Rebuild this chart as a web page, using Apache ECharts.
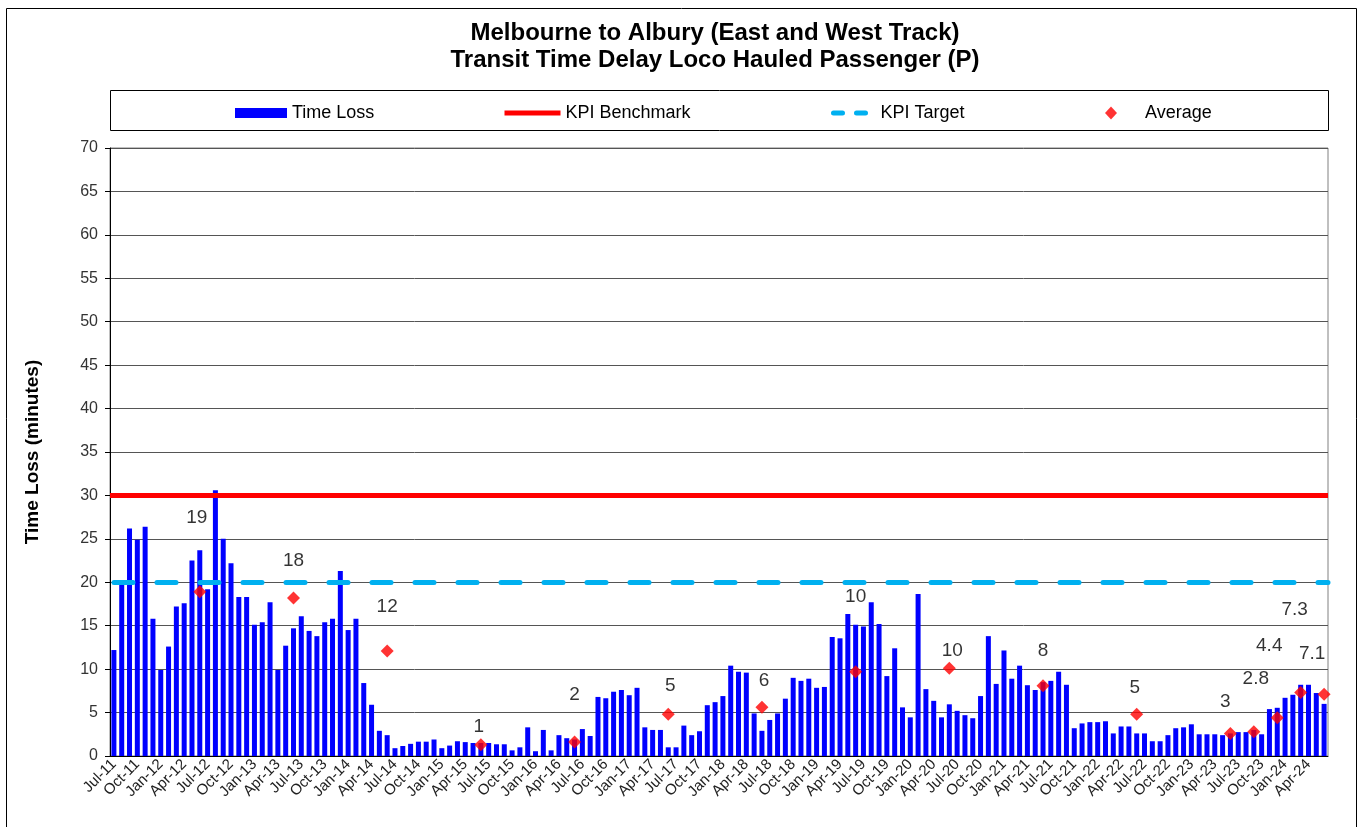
<!DOCTYPE html>
<html>
<head>
<meta charset="utf-8">
<script src="https://cdn.jsdelivr.net/npm/echarts@6/dist/echarts.min.js"></script>
<style>
  html, body { margin: 0; padding: 0; background: #fff; }
  #main { width: 1362px; height: 827px; }
</style>
</head>
<body>
<div id="main"></div>
<script>
    // month names, series starts Jul-11 and runs to Jun-24
    var monthNames = ['Jan', 'Feb', 'Mar', 'Apr', 'May', 'Jun', 'Jul', 'Aug', 'Sep', 'Oct', 'Nov', 'Dec'];
    var months = [];
    for (var y = 11; y <= 24; y++) {
        for (var m = 0; m < 12; m++) {
            if ((y === 11 && m < 6) || (y === 24 && m > 5)) continue;
            months.push(monthNames[m] + '-' + y);
        }
    }

    // monthly time loss (minutes), one row per financial year Jul..Jun
    var timeLoss = [
        12.2, 19.9, 26.2, 24.9, 26.4, 15.8, 9.9, 12.6, 17.2, 17.6, 22.5, 23.7,
        19.2, 30.6, 25.0, 22.2, 18.3, 18.3, 15.1, 15.4, 17.7, 9.9, 12.7, 14.7,
        16.1, 14.4, 13.8, 15.4, 15.8, 21.3, 14.5, 15.8, 8.4, 5.9, 2.9, 2.4,
        0.9, 1.15, 1.4, 1.65, 1.65, 1.9, 0.9, 1.2, 1.7, 1.6, 1.5, 1.5,
        1.5, 1.35, 1.35, 0.65, 1.0, 3.3, 0.55, 3.0, 0.65, 2.4, 2.05, 1.9,
        3.1, 2.3, 6.8, 6.65, 7.4, 7.6, 7.0, 7.85, 3.3, 3.0, 3.0, 1.0,
        1.0, 3.5, 2.4, 2.85, 5.85, 6.2, 6.9, 10.4, 9.7, 9.6, 4.9, 2.9,
        4.15, 4.9, 6.6, 9.0, 8.65, 8.9, 7.85, 7.95, 13.7, 13.55, 16.35, 15.1,
        14.9, 17.7, 15.2, 9.2, 12.4, 5.6, 4.45, 18.65, 7.7, 6.35, 4.45, 5.95,
        5.2, 4.7, 4.35, 6.9, 13.8, 8.3, 12.15, 8.9, 10.4, 8.15, 7.6, 8.5,
        8.65, 9.7, 8.2, 3.2, 3.75, 3.9, 3.9, 4.0, 2.6, 3.4, 3.4, 2.6,
        2.6, 1.7, 1.7, 2.4, 3.2, 3.3, 3.65, 2.5, 2.5, 2.5, 2.4, 2.6,
        2.75, 2.75, 3.0, 2.5, 5.4, 5.55, 6.7, 7.05, 8.2, 8.2, 7.25, 6.0
    ];

    var kpiBenchmark = 30;
    var kpiTarget = 20;

    // averages (financial year, then quarterly at the end)
    var avgMonths = ['Jun-12', 'Jun-13', 'Jun-14', 'Jun-15', 'Jun-16', 'Jun-17', 'Jun-18', 'Jun-19',
                     'Jun-20', 'Jun-21', 'Jun-22', 'Jun-23', 'Sep-23', 'Dec-23', 'Mar-24', 'Jun-24'];
    var avgValues = [18.9, 18.2, 12.1, 1.3, 1.6, 4.8, 5.6, 9.7, 10.1, 8.1, 4.8, 2.6, 2.8, 4.4, 7.3, 7.1];
    var avgLabels = ['19', '18', '12', '1', '2', '5', '6', '10', '10', '8', '5', '3', '2.8', '4.4', '7.3', '7.1'];

    // where each average label sits relative to its point (label placement only)
    var avgLabelOffsets = [[-3, -53], [0, -16], [0, -23], [-2, 3], [0, -26], [2, -8], [2, -6], [0, -54],
                           [3, 3], [0, -14], [-2, -6], [-5, -11], [2, -32], [-8, -51], [-6, -62], [-12, -20]];

    var avgData = months.map(function () { return '-'; });
    avgMonths.forEach(function (mon, i) {
        avgData[months.indexOf(mon)] = {
            value: avgValues[i],
            label: { formatter: avgLabels[i], offset: avgLabelOffsets[i] }
        };
    });

    var font = '"Liberation Sans", Arial, sans-serif';
    var chart = echarts.init(document.getElementById('main'));

    var legendBase = {
        orient: 'horizontal',
        top: 99,
        textStyle: { fontFamily: font, fontSize: 18, color: '#000' },
        selectedMode: false
    };

    option = {
        animation: false,
        backgroundColor: '#fff',
        title: {
            text: 'Melbourne to Albury (East and West Track)\nTransit Time Delay Loco Hauled Passenger (P)',
            left: 710,
            top: 15,
            textAlign: 'center',
            textStyle: { fontFamily: font, fontSize: 24, fontWeight: 'bold', color: '#000', lineHeight: 27 }
        },
        legend: [
            Object.assign({}, legendBase, { left: 230, data: ['Time Loss'], itemWidth: 52, itemHeight: 10, icon: 'rect' }),
            Object.assign({}, legendBase, { left: 497, data: ['KPI Benchmark'], itemWidth: 56, itemHeight: 10,
                lineStyle: { width: 5 }, itemStyle: { opacity: 0 } }),
            Object.assign({}, legendBase, { left: 826, data: ['KPI Target'], itemWidth: 42, itemHeight: 10,
                lineStyle: { width: 5 }, itemStyle: { opacity: 0 } }),
            Object.assign({}, legendBase, { left: 1100, data: ['Average'], itemWidth: 12, itemHeight: 13, icon: 'diamond',
                textStyle: { fontFamily: font, fontSize: 18, color: '#000', padding: [0, 0, 0, 23] } })
        ],
        graphic: [
            { type: 'rect', shape: { x: 6.5, y: 8.5, width: 1350, height: 830 },
              style: { fill: null, stroke: '#000', lineWidth: 1 }, z: -1 },
            { type: 'rect', shape: { x: 110.5, y: 90.5, width: 1218, height: 40 },
              style: { fill: null, stroke: '#000', lineWidth: 1 }, z: -1 }
        ],
        grid: {
            left: 110, right: 34, top: 148, bottom: 71,
            show: true, borderColor: '#808080', borderWidth: 1
        },
        xAxis: {
            type: 'category',
            data: months,
            boundaryGap: true,
            axisLine: { lineStyle: { color: '#000', width: 1 } },
            axisTick: { interval: 2, length: 5, lineStyle: { color: '#000' } },
            axisLabel: {
                interval: 2, rotate: 45, fontFamily: font, fontSize: 15, color: '#222', margin: 6
            }
        },
        yAxis: {
            type: 'value',
            min: 0, max: 70, interval: 5,
            name: 'Time Loss (minutes)',
            nameLocation: 'middle',
            nameGap: 68,
            nameTextStyle: { fontFamily: font, fontSize: 19, fontWeight: 'bold', color: '#000' },
            axisLine: { show: true, lineStyle: { color: '#000', width: 1 } },
            axisTick: { show: true, length: 5, lineStyle: { color: '#000' } },
            axisLabel: { fontFamily: font, fontSize: 16, color: '#333', margin: 12 },
            splitLine: { lineStyle: { color: '#555', width: 1 } }
        },
        series: [
            {
                name: 'Time Loss',
                type: 'bar',
                data: timeLoss,
                barWidth: 5,
                itemStyle: { color: '#0000ff' },
                z: 2
            },
            {
                name: 'KPI Benchmark',
                type: 'line',
                data: [],
                symbol: 'none',
                lineStyle: { color: '#ff0000', width: 5 },
                itemStyle: { color: '#ff0000' },
                markLine: {
                    silent: true,
                    symbol: 'none',
                    label: { show: false },
                    lineStyle: { color: '#ff0000', width: 5, type: 'solid' },
                    data: [{ yAxis: kpiBenchmark }]
                },
                z: 3
            },
            {
                name: 'KPI Target',
                type: 'line',
                data: [],
                symbol: 'none',
                lineStyle: { color: '#00b0f0', width: 5, type: [9, 14], cap: 'round' },
                itemStyle: { color: '#00b0f0' },
                markLine: {
                    silent: true,
                    symbol: 'none',
                    label: { show: false },
                    lineStyle: { color: '#00b0f0', width: 5, type: [19, 24], cap: 'round', dashOffset: -4 },
                    data: [{ yAxis: kpiTarget }]
                },
                z: 3
            },
            {
                name: 'Average',
                type: 'scatter',
                data: avgData,
                symbol: 'diamond',
                symbolSize: 13,
                itemStyle: { color: '#ff0000' },
                label: {
                    show: true,
                    position: 'top',
                    distance: 5,
                    fontFamily: font,
                    fontSize: 19,
                    color: '#000'
                },
                z: 5
            }
        ]
    };

    chart.setOption(option);
</script>
</body>
</html>
